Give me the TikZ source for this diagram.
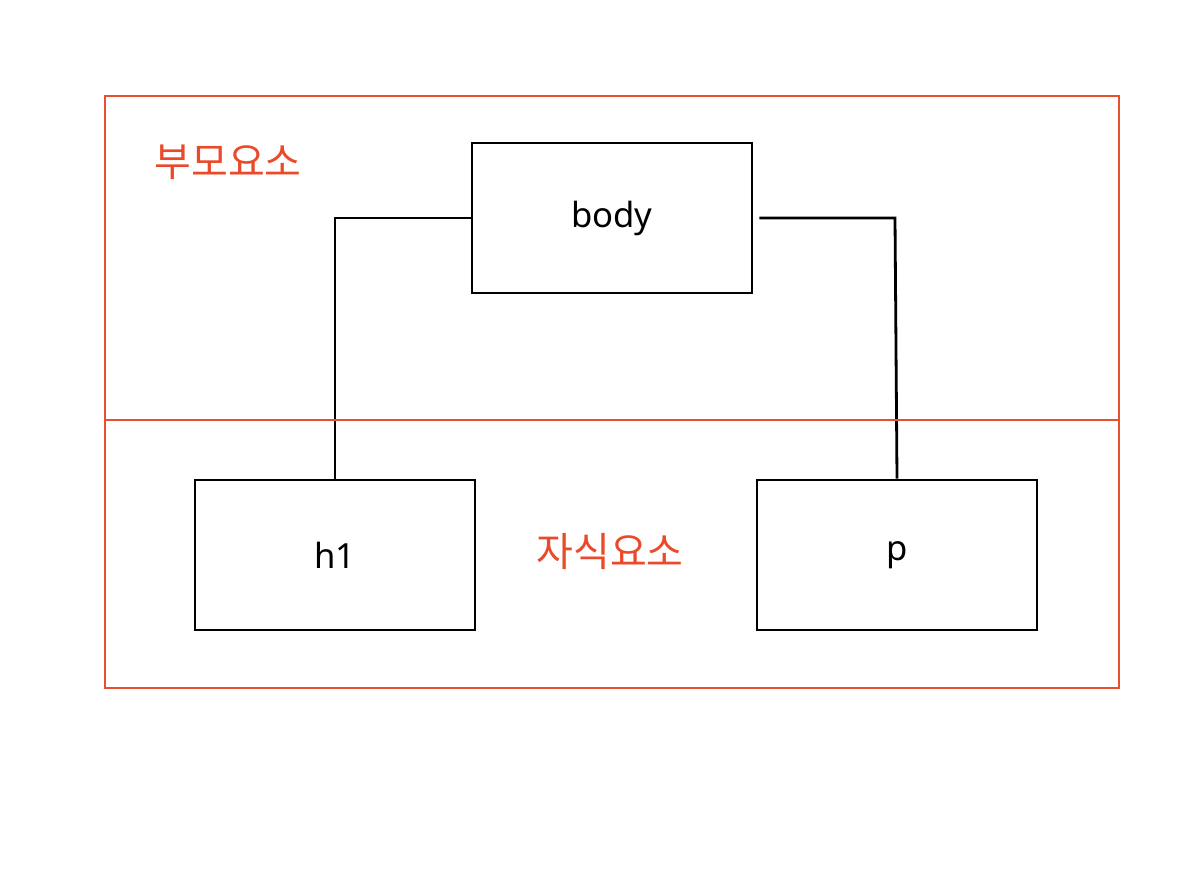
\documentclass[tikz,border=0pt]{standalone}
\usepackage{fontspec}
\setmainfont{Noto Sans}
\newfontfamily\krfont{Noto Sans CJK KR}
\definecolor{redline}{HTML}{E9502F}
\definecolor{redtext}{HTML}{EA4A2A}
\begin{document}
\begin{tikzpicture}[x=0.75pt,y=-0.75pt,
  elembox/.style={draw=black,line width=2.1pt,minimum width=210pt,minimum height=112.5pt,inner sep=0pt,font=\fontsize{26}{30}\selectfont},
  conn/.style={draw=black,line width=2.1pt},
  region/.style={draw=redline,line width=1.7pt},
  krlabel/.style={text=redtext,font=\krfont\fontsize{30}{36}\selectfont,inner sep=0pt}]
\useasboundingbox (0,0) rectangle (1202,888);
\node[elembox] (body) at (612,218) {body};
\node[elembox] (h1) at (335,555) {h1};
\node[elembox] (p) at (897,555) {p};
\coordinate (lc) at (335,218);
\coordinate (rc) at (895,218);
\draw[conn] (body.west) -- (lc) -- (h1.north);
\draw[conn] ([xshift=4.5pt]body.east) -- (rc) -- (p.north);
\coordinate (tl) at (105,96);
\coordinate (br) at (1119,688);
\coordinate (ml) at (105,420);
\coordinate (mr) at (1119,420);
\draw[region] (tl) rectangle (br);
\draw[region] (ml) -- (mr);
\node[krlabel] (parent) at (228,162) {부모요소};
\node[krlabel] (child) at (610,552) {자식요소};
\end{tikzpicture}
\end{document}
